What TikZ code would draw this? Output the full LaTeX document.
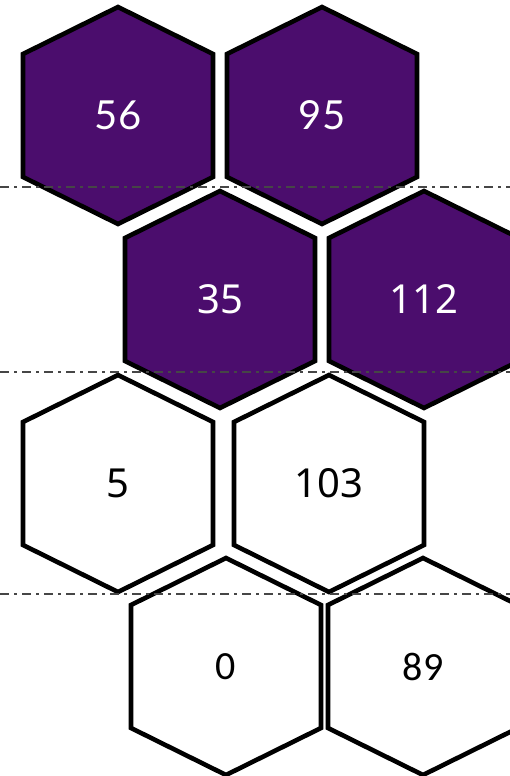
\documentclass[tikz,border=0pt]{standalone}
\usepackage{fontspec}
\newfontfamily\fa{Lato}
\newfontfamily\fb{Noto Sans}
\newfontfamily\fc{Carlito}
\definecolor{hexpurple}{RGB}{75,13,109}
\definecolor{sepgray}{RGB}{70,70,70}
\tikzset{
  hexline/.style={draw=black, line width=4.6pt, line join=miter},
  purplehex/.style={hexline, fill=hexpurple},
  whitehex/.style={hexline, fill=white},
  sepline/.style={draw=sepgray, line width=2pt, dash pattern=on 9pt off 5pt on 3pt off 5pt},
  lbl/.style={inner sep=0pt, anchor=center},
}
\newcommand{\hexagon}[4]{%
  \path[#4] (#2,#3-108.5) -- (#2+95,#3-61.5) -- (#2+95,#3+61.5) -- (#2,#3+108.5)
    -- (#2-95,#3+61.5) -- (#2-95,#3-61.5) -- cycle;
  \coordinate (#1) at (#2,#3);}
\begin{document}
\begin{tikzpicture}[x=1pt,y=-1pt]
\path[use as bounding box, fill=white] (0,0) rectangle (510,776);
\begin{scope}
\clip (0,0) rectangle (510,776);
\hexagon{h56}{118}{115.5}{purplehex}
\hexagon{h95}{322}{115.5}{purplehex}
\hexagon{h35}{220}{299.5}{purplehex}
\hexagon{h112}{424}{299.5}{purplehex}
\hexagon{h5}{118}{483.5}{whitehex}
\hexagon{h103}{329}{483.5}{whitehex}
\hexagon{h0}{226}{666.5}{whitehex}
\hexagon{h89}{423}{666.5}{whitehex}
\coordinate (l1a) at (0,186.5); \coordinate (l1b) at (510,186.5);
\coordinate (l2a) at (0,371.5); \coordinate (l2b) at (510,371.5);
\coordinate (l3a) at (0,594);   \coordinate (l3b) at (510,594);
\draw[sepline] (l1a) -- (l1b);
\draw[sepline] (l2a) -- (l2b);
\draw[sepline] (l3a) -- (l3b);
\end{scope}
\node[lbl, text=white, font=\fa\fontsize{40}{40}\selectfont] (t56) at (h56) {56};
\node[lbl, text=white, font=\fa\fontsize{40}{40}\selectfont] (t95) at (h95) {95};
\node[lbl, text=white, font=\fb\fontsize{40}{40}\selectfont] (t35) at (h35) {35};
\node[lbl, text=white, font=\fb\fontsize{40}{40}\selectfont] (t112) at (h112) {112};
\node[lbl, text=black, font=\fb\fontsize{40}{40}\selectfont] (t5) at (h5) {5};
\node[lbl, text=black, font=\fb\fontsize{40}{40}\selectfont] (t103) at (h103) {103};
\node[lbl, text=black, font=\fc\fontsize{40}{40}\selectfont] (t0) at (h0) {0};
\node[lbl, text=black, font=\fc\fontsize{40}{40}\selectfont] (t89) at (h89) {89};
\end{tikzpicture}
\end{document}
